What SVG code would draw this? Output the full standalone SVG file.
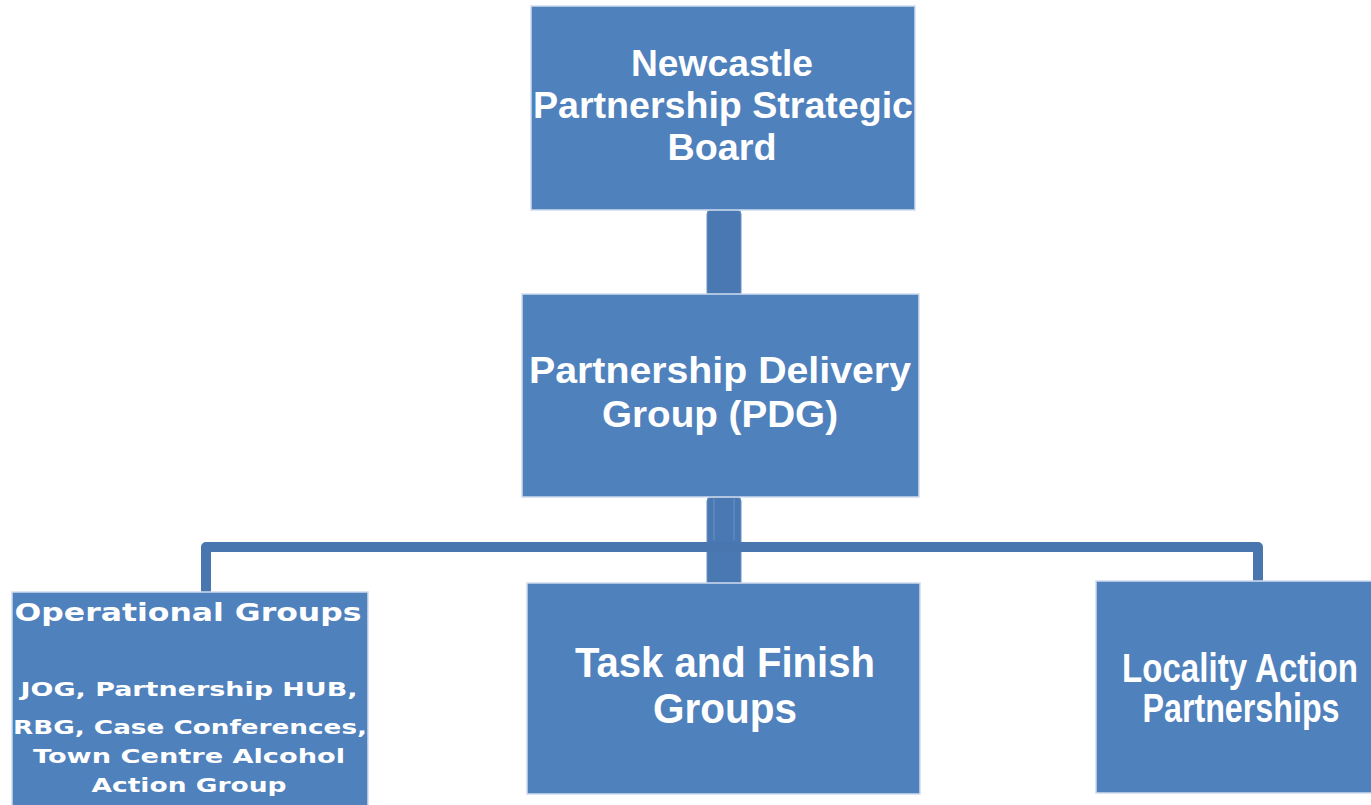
<svg xmlns="http://www.w3.org/2000/svg" width="1371" height="805" viewBox="0 0 1371 805">
<style>
.box{fill:#4F81BD;stroke:#cfdcee;stroke-width:1.5}
.bar{fill:#4A78B2;stroke:#6a92c4;stroke-width:1}
.wire{fill:none;stroke:#4A76AF;stroke-width:10;stroke-linejoin:round}
.t{fill:#ffffff;font-family:"Liberation Sans",Arial,sans-serif;font-weight:bold;text-anchor:middle}
.v{fill:#ffffff;font-family:"DejaVu Sans",Verdana,sans-serif;font-weight:bold;text-anchor:middle}
</style>
<rect width="1371" height="805" fill="#ffffff"/>
<g id="connectors">
<rect class="bar" x="707" y="210" width="34" height="89" rx="4"/>
<rect class="bar" x="707" y="497" width="34" height="90" rx="4"/>
<path class="wire" d="M206,592 V547 H1258 V596"/>
<path d="M714,497 V540 M734,497 V540" stroke="#6a92c4" stroke-width="1" fill="none"/>
</g>
<g id="board">
<rect class="box" x="531" y="6" width="384" height="204"/>
<text class="t" x="722" y="76" font-size="36" textLength="182" lengthAdjust="spacingAndGlyphs">Newcastle</text>
<text class="t" x="723" y="118" font-size="36" textLength="380" lengthAdjust="spacingAndGlyphs">Partnership Strategic</text>
<text class="t" x="722" y="160" font-size="36" textLength="109" lengthAdjust="spacingAndGlyphs">Board</text>
</g>
<g id="pdg">
<rect class="box" x="522" y="294" width="397" height="203"/>
<text class="t" x="720" y="383" font-size="36" textLength="382" lengthAdjust="spacingAndGlyphs">Partnership Delivery</text>
<text class="t" x="720" y="427" font-size="36" textLength="236" lengthAdjust="spacingAndGlyphs">Group (PDG)</text>
</g>
<g id="operational">
<rect class="box" x="12" y="592" width="356" height="220"/>
<text class="v" x="188" y="621" font-size="25" textLength="347" lengthAdjust="spacingAndGlyphs">Operational Groups</text>
<text class="v" x="189" y="696" font-size="20" textLength="337" lengthAdjust="spacingAndGlyphs">JOG, Partnership HUB,</text>
<text class="v" x="190" y="734" font-size="20" textLength="354" lengthAdjust="spacingAndGlyphs">RBG, Case Conferences,</text>
<text class="v" x="189" y="763" font-size="20" textLength="312" lengthAdjust="spacingAndGlyphs">Town Centre Alcohol</text>
<text class="v" x="189" y="792" font-size="20" textLength="195" lengthAdjust="spacingAndGlyphs">Action Group</text>
</g>
<g id="task">
<rect class="box" x="527" y="583" width="393" height="211"/>
<text class="t" x="725" y="677" font-size="42" textLength="300" lengthAdjust="spacingAndGlyphs">Task and Finish</text>
<text class="t" x="725" y="723" font-size="42" textLength="144" lengthAdjust="spacingAndGlyphs">Groups</text>
</g>
<g id="locality">
<rect class="box" x="1096" y="581" width="285" height="212"/>
<text class="t" x="1240" y="682" font-size="40" textLength="236" lengthAdjust="spacingAndGlyphs">Locality Action</text>
<text class="t" x="1241" y="722" font-size="40" textLength="197" lengthAdjust="spacingAndGlyphs">Partnerships</text>
</g>
</svg>
